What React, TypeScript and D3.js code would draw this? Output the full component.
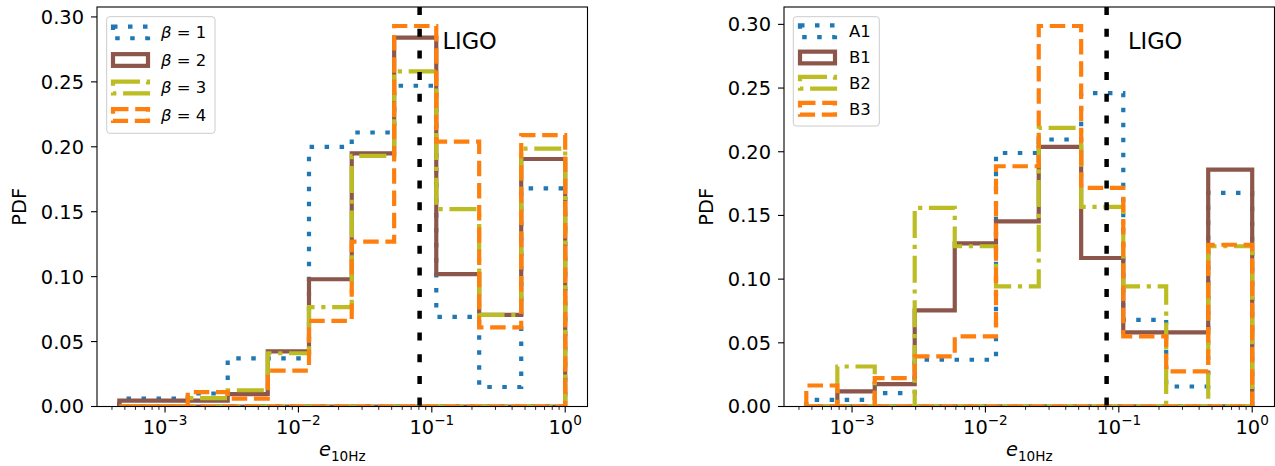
import React from "react";
import * as d3 from "d3";

// Shared histogram bin edges (eccentricity at 10 Hz)
const binEdges = [4.54e-4, 7.76e-4, 1.48e-3, 2.95e-3, 5.89e-3, 1.2e-2, 2.51e-2, 5.22e-2, 1.08e-1, 2.265e-1, 4.68e-1, 1.0];
const ligoE = 0.081;

// Left panel: beta models
const betaLabels = ["1", "2", "3", "4"];
const beta1 = [0.006, 0.006, 0.010, 0.037, 0.037, 0.200, 0.211, 0.247, 0.069, 0.015, 0.168];
const beta2 = [0.0046, 0.0046, 0.0046, 0.0095, 0.0424, 0.098, 0.195, 0.284, 0.102, 0.0706, 0.1906];
const beta3 = [0, 0, 0.0065, 0.0125, 0.041, 0.0765, 0.193, 0.258, 0.152, 0.0706, 0.1986];
const beta4 = [0, 0, 0.011, 0.006, 0.0277, 0.066, 0.127, 0.293, 0.204, 0.061, 0.209];

// Right panel: named models
const modelLabels = ["A1", "B1", "B2", "B3"];
const modelA1 = [0.0052, 0.0052, 0.0105, 0.0367, 0.0367, 0.199, 0.2096, 0.246, 0.068, 0.0157, 0.1677];
const modelB1 = [0, 0.0118, 0.0176, 0.0755, 0.128, 0.1454, 0.2038, 0.1166, 0.0582, 0.0582, 0.186];
const modelB2 = [0, 0.0314, 0, 0.156, 0.1258, 0.0943, 0.2188, 0.1567, 0.0943, 0, 0.1258];
const modelB3 = [0.0165, 0, 0.0223, 0.0393, 0.055, 0.1886, 0.2987, 0.1716, 0.055, 0.0275, 0.127];

const yTicks = [0, 0.05, 0.1, 0.15, 0.2, 0.25, 0.3];
const xMajor = [1e-3, 1e-2, 1e-1, 1];
const xMajorExp = ["\u22123", "\u22122", "\u22121", "0"];

const colors = ["#1f77b4", "#8c564b", "#bcbd22", "#ff7f0e"];
const dashes: (string | undefined)[] = ["4.5 10.5", undefined, "27 6.7 4.2 6.7", "15.5 6.7"];

const FONT = "DejaVu Sans, sans-serif";
const AX_TOP = 7;
const AX_BOT = 406.5;
const LW = 4.2;
const TICK = 6;
const MINOR = 3.4;

type LegendGeom = { bx0: number; bx1: number; by0: number; by1: number; hx: number; tx: number; rows: number[] };

function Panel(props: {
  id: string;
  x0: number;
  x1: number;
  series: number[][];
  labels: string[];
  beta: boolean;
  legend: LegendGeom;
  ligoTextX: number;
  yLabelX: number;
}) {
  const { id, x0, x1, series, labels, beta, legend, ligoTextX, yLabelX } = props;
  const lo = Math.log10(binEdges[0]);
  const hi = Math.log10(binEdges[binEdges.length - 1]);
  const span = hi - lo;
  const x = d3.scaleLog().domain([10 ** (lo - 0.05 * span), 10 ** (hi + 0.05 * span)]).range([x0, x1]);
  const yMax = d3.max(series.flat()) as number;
  const y = d3.scaleLinear().domain([0, yMax * 1.05]).range([AX_BOT, AX_TOP]);

  const pathFor = (h: number[]) => {
    const pts: [number, number][] = [[binEdges[0], 0]];
    h.forEach((v, i) => {
      pts.push([binEdges[i], v]);
      pts.push([binEdges[i + 1], v]);
    });
    pts.push([binEdges[binEdges.length - 1], 0]);
    return "M" + pts.map((p) => `${x(p[0]).toFixed(2)},${y(p[1]).toFixed(2)}`).join("L") + "Z";
  };

  const [dlo, dhi] = x.domain();
  const minor: number[] = [];
  for (let k = -4; k <= 0; k++) {
    for (let m = 2; m <= 9; m++) {
      const v = m * 10 ** k;
      if (v >= dlo && v <= dhi) minor.push(v);
    }
  }
  const xc = (x0 + x1) / 2;

  return (
    <g>
      <defs>
        <clipPath id={`clip-${id}`}>
          <rect x={x0} y={AX_TOP} width={x1 - x0} height={AX_BOT - AX_TOP} />
        </clipPath>
      </defs>
      <g clipPath={`url(#clip-${id})`}>
        {series.map((h, i) => (
          <path
            key={i}
            d={pathFor(h)}
            fill="none"
            stroke={colors[i]}
            strokeWidth={LW}
            strokeDasharray={dashes[i]}
            strokeLinecap="butt"
            strokeLinejoin="miter"
          />
        ))}
        <line
          x1={x(ligoE)}
          x2={x(ligoE)}
          y1={AX_TOP}
          y2={AX_BOT}
          stroke="#000"
          strokeWidth={4.5}
          strokeDasharray="8 13.7"
        />
      </g>
      <text x={ligoTextX} y={48.5} fontFamily={FONT} fontSize={22.5} fill="#000">
        LIGO
      </text>
      {/* spines */}
      <rect x={x0} y={AX_TOP} width={x1 - x0} height={AX_BOT - AX_TOP} fill="none" stroke="#000" strokeWidth={1.1} />
      {/* y ticks */}
      {yTicks.map((t) => (
        <g key={t}>
          <line x1={x0 - TICK} x2={x0} y1={y(t)} y2={y(t)} stroke="#000" strokeWidth={1.1} />
          <text
            x={x0 - 13}
            y={y(t)}
            dy="0.36em"
            textAnchor="end"
            fontFamily={FONT}
            fontSize={19.4}
            fill="#000"
          >
            {t.toFixed(2)}
          </text>
        </g>
      ))}
      {/* x ticks */}
      {minor.map((t) => (
        <line key={t} x1={x(t)} x2={x(t)} y1={AX_BOT} y2={AX_BOT + MINOR} stroke="#000" strokeWidth={0.85} />
      ))}
      {xMajor.map((t, i) => (
        <g key={t}>
          <line x1={x(t)} x2={x(t)} y1={AX_BOT} y2={AX_BOT + TICK} stroke="#000" strokeWidth={1.1} />
          <text x={x(t)} y={433.5} textAnchor="middle" fontFamily={FONT} fontSize={19.4} fill="#000">
            10
            <tspan dy={-8.5} fontSize={13.6}>
              {xMajorExp[i]}
            </tspan>
          </text>
        </g>
      ))}
      {/* axis labels */}
      <text x={xc} y={456} textAnchor="middle" fontFamily={FONT} fontSize={19.4} fill="#000">
        <tspan fontStyle="italic">e</tspan>
        <tspan dy={4.5} fontSize={13.6}>
          10Hz
        </tspan>
      </text>
      <text
        transform={`translate(${yLabelX},${(AX_TOP + AX_BOT) / 2}) rotate(-90)`}
        textAnchor="middle"
        fontFamily={FONT}
        fontSize={19.4}
        fill="#000"
      >
        PDF
      </text>
      {/* legend */}
      <rect
        x={legend.bx0}
        y={legend.by0}
        width={legend.bx1 - legend.bx0}
        height={legend.by1 - legend.by0}
        rx={3}
        ry={3}
        fill="#fff"
        fillOpacity={0.8}
        stroke="#cccccc"
        strokeWidth={1}
      />
      {labels.map((lab, i) => (
        <g key={lab}>
          <rect
            x={legend.hx}
            y={legend.rows[i] - 5.85}
            width={35}
            height={11.7}
            fill="none"
            stroke={colors[i]}
            strokeWidth={LW}
            strokeDasharray={dashes[i]}
            strokeLinejoin="miter"
          />
          <text x={legend.tx} y={legend.rows[i]} dy="0.36em" fontFamily={FONT} fontSize={16.5} fill="#000">
            {beta ? (
              <>
                <tspan fontStyle="italic">β</tspan>
                <tspan>{` = ${lab}`}</tspan>
              </>
            ) : (
              lab
            )}
          </text>
        </g>
      ))}
    </g>
  );
}

export default function App() {
  return (
    <svg
      width={1275}
      height={466}
      viewBox="0 0 1275 466"
      style={{ position: "absolute", left: 0, top: 0, background: "#fff" }}
    >
      <rect x={0} y={0} width={1275} height={466} fill="#fff" />
      <Panel
        id="left"
        x0={97}
        x1={587.5}
        series={[beta1, beta2, beta3, beta4]}
        labels={betaLabels}
        beta={true}
        legend={{ bx0: 106.7, bx1: 215, by0: 16.7, by1: 133.3, hx: 113, tx: 161, rows: [32.4, 60, 87.5, 115] }}
        ligoTextX={442.5}
        yLabelX={26}
      />
      <Panel
        id="right"
        x0={784}
        x1={1274.5}
        series={[modelA1, modelB1, modelB2, modelB3]}
        labels={modelLabels}
        beta={false}
        legend={{ bx0: 793.3, bx1: 879.3, by0: 16.7, by1: 126, hx: 800, tx: 849, rows: [31.3, 57.5, 82.8, 108.7] }}
        ligoTextX={1128}
        yLabelX={713}
      />
    </svg>
  );
}
